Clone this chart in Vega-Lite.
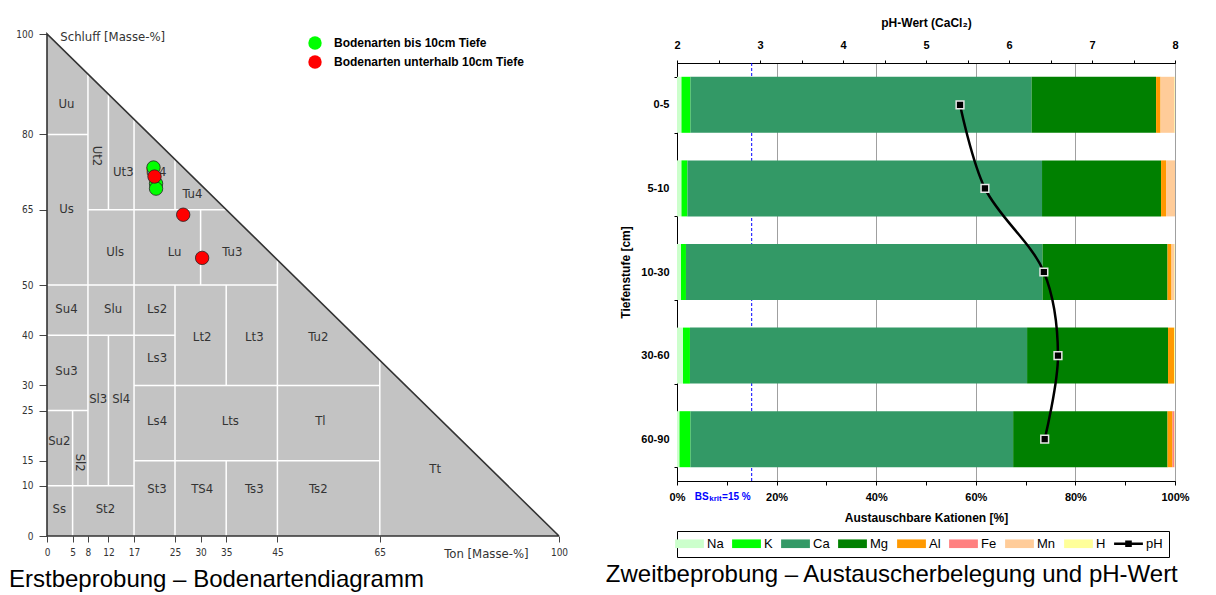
{
  "$schema": "https://vega.github.io/schema/vega-lite/v6.json",
  "background": "white",
  "padding": {"left": 5, "top": 15, "right": 5, "bottom": 3},
  "spacing": 37,
  "config": {"view": {"stroke": null}, "font": "Liberation Sans"},
  "resolve": {"scale": {"color": "independent", "fill": "independent"}},
  "hconcat": [
    {
      "width": 512,
      "height": 473,
      "title": {"text": "Erstbeprobung – Bodenartendiagramm", "orient": "bottom", "anchor": "start", "fontSize": 24, "fontWeight": "normal", "font": "Liberation Sans", "color": "black", "offset": 3, "dx": 4},
      "layer": [
        {
          "data": {"values": [{"t": 0, "s": 100}, {"t": 100, "s": 0}]},
          "mark": {"type": "area", "color": "#c3c3c3", "opacity": 1},
          "encoding": {
            "x": {"field": "t", "type": "quantitative", "title": null,
              "scale": {"domain": [0, 100], "nice": false},
              "axis": {"values": [0, 5, 8, 12, 17, 25, 30, 35, 45, 65, 100], "domain": false, "grid": false, "tickSize": 6, "tickColor": "#444", "labelFont": "Liberation Sans Narrow, DejaVu Sans Condensed, sans-serif", "labelFontSize": 10, "labelColor": "#333", "labelPadding": 5, "labelFlush": false, "labelOverlap": false}},
            "y": {"field": "s", "type": "quantitative", "title": null,
              "scale": {"domain": [0, 100], "range": [473, -29], "nice": false},
              "axis": {"values": [0, 10, 15, 25, 30, 40, 50, 65, 80, 100], "domain": false, "grid": false, "tickSize": 8, "tickColor": "#444", "labelFont": "Liberation Sans Narrow, DejaVu Sans Condensed, sans-serif", "labelFontSize": 10, "labelColor": "#333", "labelPadding": 6, "labelFlush": false, "labelOverlap": false, "minExtent": 42, "maxExtent": 42}}
          }
        },
        {
          "data": {"values": [
            {"t": 0, "s": 80, "t2": 8, "s2": 80},
            {"t": 8, "s": 65, "t2": 35, "s2": 65},
            {"t": 0, "s": 50, "t2": 45, "s2": 50},
            {"t": 0, "s": 40, "t2": 25, "s2": 40},
            {"t": 17, "s": 30, "t2": 65, "s2": 30},
            {"t": 0, "s": 25, "t2": 8, "s2": 25},
            {"t": 17, "s": 15, "t2": 65, "s2": 15},
            {"t": 0, "s": 10, "t2": 17, "s2": 10},
            {"t": 5, "s": 0, "t2": 5, "s2": 25},
            {"t": 8, "s": 10, "t2": 8, "s2": 92},
            {"t": 12, "s": 10, "t2": 12, "s2": 40},
            {"t": 12, "s": 65, "t2": 12, "s2": 88},
            {"t": 17, "s": 0, "t2": 17, "s2": 83},
            {"t": 25, "s": 0, "t2": 25, "s2": 50},
            {"t": 25, "s": 65, "t2": 25, "s2": 75},
            {"t": 30, "s": 50, "t2": 30, "s2": 65},
            {"t": 35, "s": 0, "t2": 35, "s2": 15},
            {"t": 35, "s": 30, "t2": 35, "s2": 50},
            {"t": 45, "s": 0, "t2": 45, "s2": 55},
            {"t": 65, "s": 0, "t2": 65, "s2": 35}
          ]},
          "mark": {"type": "rule", "color": "white", "strokeWidth": 1.5},
          "encoding": {
            "x": {"field": "t", "type": "quantitative", "title": null},
            "y": {"field": "s", "type": "quantitative", "title": null},
            "x2": {"field": "t2"},
            "y2": {"field": "s2"}
          }
        },
        {
          "data": {"values": [
            {"t": 100, "s": 0, "o": 0},
            {"t": 0, "s": 0, "o": 1},
            {"t": 0, "s": 100, "o": 2},
            {"t": 100, "s": 0, "o": 3}
          ]},
          "mark": {"type": "line", "color": "#333333", "strokeWidth": 1.6},
          "encoding": {
            "x": {"field": "t", "type": "quantitative", "title": null},
            "y": {"field": "s", "type": "quantitative", "title": null},
            "order": {"field": "o", "type": "quantitative"}
          }
        },
        {
          "data": {"values": [
            {"t": 3.8, "s": 86.1, "lab": "Uu"},
            {"t": 14.9, "s": 72.6, "lab": "Ut3"},
            {"t": 21.3, "s": 72.6, "lab": "Ut4"},
            {"t": 28.4, "s": 68.2, "lab": "Tu4"},
            {"t": 3.8, "s": 65.2, "lab": "Us"},
            {"t": 13.3, "s": 56.6, "lab": "Uls"},
            {"t": 24.9, "s": 56.6, "lab": "Lu"},
            {"t": 36.2, "s": 56.6, "lab": "Tu3"},
            {"t": 3.8, "s": 45.2, "lab": "Su4"},
            {"t": 12.9, "s": 45.2, "lab": "Slu"},
            {"t": 21.5, "s": 45.2, "lab": "Ls2"},
            {"t": 30.3, "s": 39.7, "lab": "Lt2"},
            {"t": 40.5, "s": 39.7, "lab": "Lt3"},
            {"t": 53, "s": 39.7, "lab": "Tu2"},
            {"t": 21.5, "s": 35.5, "lab": "Ls3"},
            {"t": 3.8, "s": 32.9, "lab": "Su3"},
            {"t": 10, "s": 27.3, "lab": "Sl3"},
            {"t": 14.5, "s": 27.3, "lab": "Sl4"},
            {"t": 21.5, "s": 22.9, "lab": "Ls4"},
            {"t": 35.8, "s": 22.9, "lab": "Lts"},
            {"t": 53.4, "s": 22.9, "lab": "Tl"},
            {"t": 2.4, "s": 18.9, "lab": "Su2"},
            {"t": 75.8, "s": 13.4, "lab": "Tt"},
            {"t": 21.5, "s": 9.4, "lab": "St3"},
            {"t": 30.3, "s": 9.4, "lab": "TS4"},
            {"t": 40.5, "s": 9.4, "lab": "Ts3"},
            {"t": 53, "s": 9.4, "lab": "Ts2"},
            {"t": 2.4, "s": 5.4, "lab": "Ss"},
            {"t": 11.4, "s": 5.4, "lab": "St2"}
          ]},
          "mark": {"type": "text", "font": "Liberation Sans Narrow, DejaVu Sans Condensed, sans-serif", "fontSize": 13, "color": "#333333"},
          "encoding": {
            "x": {"field": "t", "type": "quantitative", "title": null},
            "y": {"field": "s", "type": "quantitative", "title": null},
            "text": {"field": "lab"}
          }
        },
        {
          "data": {"values": [
            {"t": 9.8, "s": 75.7, "lab": "Ut2"},
            {"t": 6.5, "s": 14.6, "lab": "Sl2"}
          ]},
          "mark": {"type": "text", "font": "Liberation Sans Narrow, DejaVu Sans Condensed, sans-serif", "fontSize": 13, "color": "#333333", "angle": 90},
          "encoding": {
            "x": {"field": "t", "type": "quantitative", "title": null},
            "y": {"field": "s", "type": "quantitative", "title": null},
            "text": {"field": "lab"}
          }
        },
        {
          "data": {"values": [
            {"t": 2.6, "s": 99.4, "lab": "Schluff [Masse-%]"},
            {"t": 77.6, "s": -3.6, "lab": "Ton [Masse-%]"}
          ]},
          "mark": {"type": "text", "font": "Liberation Sans Narrow, DejaVu Sans Condensed, sans-serif", "fontSize": 13, "color": "#333333", "align": "left", "baseline": "middle"},
          "encoding": {
            "x": {"field": "t", "type": "quantitative", "title": null},
            "y": {"field": "s", "type": "quantitative", "title": null},
            "text": {"field": "lab"}
          }
        },
        {
          "data": {"values": [
            {"gruppe": "Bodenarten bis 10cm Tiefe", "t": 20.8, "s": 73.4},
            {"gruppe": "Bodenarten bis 10cm Tiefe", "t": 21.3, "s": 70.2},
            {"gruppe": "Bodenarten bis 10cm Tiefe", "t": 21.3, "s": 69.2},
            {"gruppe": "Bodenarten unterhalb 10cm Tiefe", "t": 21.0, "s": 71.6},
            {"gruppe": "Bodenarten unterhalb 10cm Tiefe", "t": 26.6, "s": 64.0},
            {"gruppe": "Bodenarten unterhalb 10cm Tiefe", "t": 30.3, "s": 55.4}
          ]},
          "mark": {"type": "point", "shape": "circle", "filled": true, "size": 180, "stroke": "#222222", "strokeWidth": 0.8, "opacity": 1},
          "encoding": {
            "x": {"field": "t", "type": "quantitative", "title": null},
            "y": {"field": "s", "type": "quantitative", "title": null},
            "fill": {"field": "gruppe", "type": "nominal",
              "scale": {"domain": ["Bodenarten bis 10cm Tiefe", "Bodenarten unterhalb 10cm Tiefe"], "range": ["#00ff00", "#ff0000"]},
              "legend": {"title": null, "orient": "none", "legendX": 261, "legendY": -27, "padding": 0, "symbolType": "circle", "symbolSize": 180, "symbolStrokeWidth": 0, "labelFontSize": 12, "labelFontWeight": "bold", "labelFont": "Liberation Sans", "labelColor": "black", "labelOffset": 12, "labelLimit": 400, "rowPadding": 5}}
          }
        }
      ]
    },
    {
      "width": 498,
      "height": 418,
      "view": {"stroke": "black", "strokeWidth": 1},
      "title": {"text": "Zweitbeprobung – Austauscherbelegung und pH-Wert", "orient": "bottom", "anchor": "start", "fontSize": 24, "fontWeight": "normal", "font": "Liberation Sans", "color": "black", "offset": 5, "dx": -14},
      "resolve": {"scale": {"x": "independent"}},
      "layer": [
        {
          "layer": [
            {
              "data": {"values": [{"bs": 15}]},
              "mark": {"type": "rule", "color": "#0000ff", "strokeDash": [3, 2], "strokeWidth": 1},
              "encoding": {"x": {"field": "bs", "type": "quantitative", "title": "Austauschbare Kationen [%]"}}
            },
            {
              "data": {"values": [
                {"depth": "0-5", "ion": "Na", "ord": 1, "pct": 0.9},
                {"depth": "0-5", "ion": "K", "ord": 2, "pct": 1.8},
                {"depth": "0-5", "ion": "Ca", "ord": 3, "pct": 68.5},
                {"depth": "0-5", "ion": "Mg", "ord": 4, "pct": 25.0},
                {"depth": "0-5", "ion": "Al", "ord": 5, "pct": 0.9},
                {"depth": "0-5", "ion": "Fe", "ord": 6, "pct": 0.0},
                {"depth": "0-5", "ion": "Mn", "ord": 7, "pct": 2.8},
                {"depth": "0-5", "ion": "H", "ord": 8, "pct": 0.1},
                {"depth": "5-10", "ion": "Na", "ord": 1, "pct": 0.9},
                {"depth": "5-10", "ion": "K", "ord": 2, "pct": 1.2},
                {"depth": "5-10", "ion": "Ca", "ord": 3, "pct": 71.2},
                {"depth": "5-10", "ion": "Mg", "ord": 4, "pct": 23.9},
                {"depth": "5-10", "ion": "Al", "ord": 5, "pct": 1.0},
                {"depth": "5-10", "ion": "Fe", "ord": 6, "pct": 0.0},
                {"depth": "5-10", "ion": "Mn", "ord": 7, "pct": 1.8},
                {"depth": "5-10", "ion": "H", "ord": 8, "pct": 0.0},
                {"depth": "10-30", "ion": "Na", "ord": 1, "pct": 0.8},
                {"depth": "10-30", "ion": "K", "ord": 2, "pct": 1.0},
                {"depth": "10-30", "ion": "Ca", "ord": 3, "pct": 71.6},
                {"depth": "10-30", "ion": "Mg", "ord": 4, "pct": 25.1},
                {"depth": "10-30", "ion": "Al", "ord": 5, "pct": 0.8},
                {"depth": "10-30", "ion": "Fe", "ord": 6, "pct": 0.0},
                {"depth": "10-30", "ion": "Mn", "ord": 7, "pct": 0.6},
                {"depth": "10-30", "ion": "H", "ord": 8, "pct": 0.1},
                {"depth": "30-60", "ion": "Na", "ord": 1, "pct": 1.2},
                {"depth": "30-60", "ion": "K", "ord": 2, "pct": 1.4},
                {"depth": "30-60", "ion": "Ca", "ord": 3, "pct": 67.7},
                {"depth": "30-60", "ion": "Mg", "ord": 4, "pct": 28.3},
                {"depth": "30-60", "ion": "Al", "ord": 5, "pct": 1.2},
                {"depth": "30-60", "ion": "Fe", "ord": 6, "pct": 0.0},
                {"depth": "30-60", "ion": "Mn", "ord": 7, "pct": 0.0},
                {"depth": "30-60", "ion": "H", "ord": 8, "pct": 0.2},
                {"depth": "60-90", "ion": "Na", "ord": 1, "pct": 0.5},
                {"depth": "60-90", "ion": "K", "ord": 2, "pct": 2.2},
                {"depth": "60-90", "ion": "Ca", "ord": 3, "pct": 64.8},
                {"depth": "60-90", "ion": "Mg", "ord": 4, "pct": 31.0},
                {"depth": "60-90", "ion": "Al", "ord": 5, "pct": 1.0},
                {"depth": "60-90", "ion": "Fe", "ord": 6, "pct": 0.4},
                {"depth": "60-90", "ion": "Mn", "ord": 7, "pct": 0.0},
                {"depth": "60-90", "ion": "H", "ord": 8, "pct": 0.1}
              ]},
              "mark": {"type": "bar"},
              "encoding": {
                "y": {"field": "depth", "type": "nominal", "sort": ["0-5", "5-10", "10-30", "30-60", "60-90"], "title": "Tiefenstufe [cm]",
                  "scale": {"paddingInner": 0.33, "paddingOuter": 0.165},
                  "axis": {"tickBand": "extent", "tickSize": 3, "tickColor": "black", "domainColor": "black", "labelPadding": 5, "titlePadding": 8, "labelFontWeight": "bold", "labelFontSize": 11, "labelColor": "black", "titleFontSize": 12, "titleFontWeight": "bold", "titleColor": "black"}},
                "x": {"field": "pct", "type": "quantitative", "stack": "zero", "title": "Austauschbare Kationen [%]",
                  "scale": {"domain": [0, 100], "nice": false},
                  "axis": {"values": [0, 5, 10, 15, 20, 25, 30, 35, 40, 45, 50, 55, 60, 65, 70, 75, 80, 85, 90, 95, 100],
                    "labelExpr": "datum.value % 20 === 0 ? datum.value + '%' : ''",
                    "grid": true, "gridColor": "#a0a0a0",
                    "gridOpacity": {"condition": {"test": "datum.value % 20 === 0", "value": 1}, "value": 0},
                    "tickSize": 4, "tickColor": "black", "domainColor": "black", "labelPadding": 6, "titlePadding": 10,
                    "labelFontWeight": "bold", "labelFontSize": 11, "labelColor": "black", "titleFontSize": 12, "titleFontWeight": "bold", "titleColor": "black",
                    "labelFlush": false, "labelOverlap": false}},
                "color": {"field": "ion", "type": "nominal",
                  "scale": {"domain": ["Na", "K", "Ca", "Mg", "Al", "Fe", "Mn", "H", "pH"], "range": ["#ccffcc", "#00ff00", "#339966", "#008000", "#ff9900", "#ff8080", "#ffcc99", "#ffff99", "#000000"]},
                  "legend": {"title": null, "orient": "bottom", "direction": "horizontal", "columns": 9,
                    "symbolType": "M-2.4,-0.72H2.4V0.72H-2.4Z", "symbolSize": 144, "symbolStrokeWidth": 0,
                    "labelOffset": 11, "labelFontSize": 13, "labelFont": "Liberation Sans", "labelColor": "black", "columnPadding": 8,
                    "strokeColor": "black", "padding": 6, "offset": 8,
                    "encode": {"symbols": {"update": {"shape": {"signal": "datum.value === 'pH' ? 'M-2.4,-0.2H-0.55V-0.55H0.55V-0.2H2.4V0.2H0.55V0.55H-0.55V0.2H-2.4Z' : 'M-2.4,-0.72H2.4V0.72H-2.4Z'"}}}}}},
                "order": {"field": "ord", "type": "quantitative"}
              }
            },
            {
              "data": {"values": [{"bs": 15, "lab": "=15 %"}]},
              "mark": {"type": "text", "color": "#0000ff", "fontWeight": "bold", "fontSize": 10, "align": "right", "baseline": "middle", "dx": -1, "dy": 16},
              "encoding": {"x": {"field": "bs", "type": "quantitative", "title": "Austauschbare Kationen [%]"}, "y": {"value": "height"}, "text": {"field": "lab"}}
            },
            {
              "data": {"values": [{"bs": 15, "lab": "krit"}]},
              "mark": {"type": "text", "color": "#0000ff", "fontWeight": "bold", "fontSize": 8, "align": "right", "baseline": "middle", "dx": -30, "dy": 18},
              "encoding": {"x": {"field": "bs", "type": "quantitative", "title": "Austauschbare Kationen [%]"}, "y": {"value": "height"}, "text": {"field": "lab"}}
            },
            {
              "data": {"values": [{"bs": 15, "lab": "BS"}]},
              "mark": {"type": "text", "color": "#0000ff", "fontWeight": "bold", "fontSize": 10, "align": "right", "baseline": "middle", "dx": -43, "dy": 16},
              "encoding": {"x": {"field": "bs", "type": "quantitative", "title": "Austauschbare Kationen [%]"}, "y": {"value": "height"}, "text": {"field": "lab"}}
            }
          ]
        },
        {
          "data": {"values": [
            {"depth": "0-5", "ph": 5.41, "idx": 0},
            {"depth": "5-10", "ph": 5.71, "idx": 1},
            {"depth": "10-30", "ph": 6.42, "idx": 2},
            {"depth": "30-60", "ph": 6.59, "idx": 3},
            {"depth": "60-90", "ph": 6.43, "idx": 4}
          ]},
          "encoding": {
            "y": {"field": "depth", "type": "nominal", "sort": ["0-5", "5-10", "10-30", "30-60", "60-90"], "title": "Tiefenstufe [cm]"},
            "x": {"field": "ph", "type": "quantitative", "title": "pH-Wert (CaCl₂)",
              "scale": {"domain": [2, 8], "nice": false},
              "axis": {"orient": "top", "values": [2, 2.5, 3, 3.5, 4, 4.5, 5, 5.5, 6, 6.5, 7, 7.5, 8],
                "labelExpr": "datum.value % 1 === 0 ? '' + datum.value : ''",
                "grid": false, "tickSize": 3, "tickColor": "black", "domainColor": "black", "labelPadding": 10, "titlePadding": 10,
                "labelFontWeight": "bold", "labelFontSize": 11, "labelColor": "black", "titleFontSize": 12, "titleFontWeight": "bold", "titleColor": "black",
                "labelFlush": false, "labelOverlap": false}}
          },
          "layer": [
            {"mark": {"type": "line", "color": "black", "strokeWidth": 2.5, "interpolate": "catmull-rom"},
             "encoding": {"order": {"field": "idx", "type": "quantitative"}}},
            {"mark": {"type": "point", "shape": "square", "filled": true, "fill": "black", "stroke": "#e6e6e6", "strokeWidth": 1.5, "size": 60, "opacity": 1}}
          ]
        }
      ]
    }
  ]
}
